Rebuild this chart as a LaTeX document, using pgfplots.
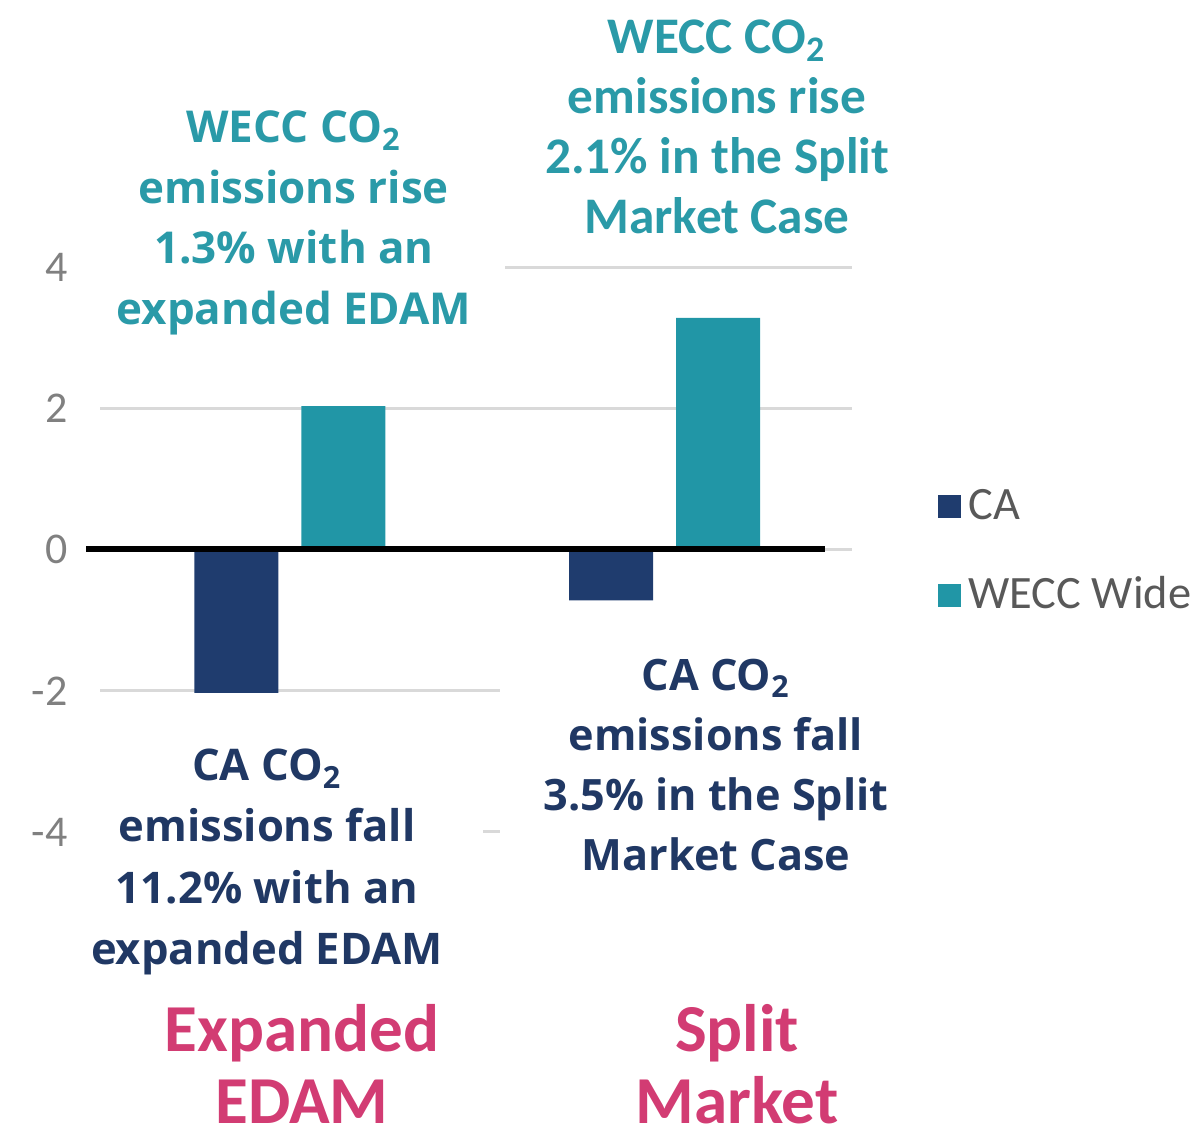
\documentclass[border=0pt]{standalone}
\usepackage{pgfplots}
\pgfplotsset{compat=1.18}
\usepackage{fontspec}
\setmainfont{Carlito}
\newfontfamily\osans{Open Sans}
\definecolor{ca}{HTML}{1F3C6E}
\definecolor{wecc}{HTML}{2196A6}
\definecolor{tealtext}{HTML}{2A9AA8}
\definecolor{navytext}{HTML}{203864}
\definecolor{pinktext}{HTML}{D23C73}
\definecolor{tickgray}{HTML}{808080}
\definecolor{leggray}{HTML}{595959}
\definecolor{gridgray}{HTML}{D9D9D9}
\begin{document}
\begin{tikzpicture}
\begin{axis}[
  at={(1.00cm,3.11cm)}, anchor=south west,
  scale only axis, width=7.52cm, height=5.65cm,
  xmin=-0.507, xmax=1.5, ymin=-4, ymax=4,
  ytick={-4,-2,0,2,4}, yticklabels={-4,-2,0,2,4},
  xtick=\empty,
  axis line style={draw=none},
  major tick length=0pt,
  ymajorgrids, grid style={color=gridgray, line width=0.03cm},
  ybar=0.23cm, bar width=0.84cm,
  yticklabel style={font=\fontsize{12.5pt}{14pt}\selectfont, text=tickgray, xshift=-0.2cm},
  clip=false,
  legend style={at={(1.100,0.496)}, anchor=west, draw=none, fill=none,
    font=\fontsize{13.2pt}{15pt}\selectfont, text=leggray, row sep=0.38cm,
    cells={anchor=west}},
  legend image code/.code={\fill[#1] (0cm,-0.115cm) rectangle (0.23cm,0.115cm);},
]
\addplot[fill=ca, draw=none] coordinates {(0,-2.03) (1,-0.72)};
\addplot[fill=wecc, draw=none] coordinates {(0,2.03) (1,3.28)};
\legend{CA, WECC Wide}
\draw[line width=0.06cm] (axis cs:-0.544,0) -- (axis cs:1.427,0);
\end{axis}
% white boxes hiding grid lines
\fill[white] (0.95,7.98) rectangle (5.05,10.48);
\fill[white] (0.85,1.63) rectangle (4.83,4.38);
\fill[white] (5.00,2.63) rectangle (9.00,5.03);
% annotations
\node[font=\osans\bfseries\fontsize{12.5pt}{17.2pt}\selectfont, text=tealtext, align=center] at (2.94,9.20)
  {WECC CO\textsubscript{2}\\emissions rise\\1.3\% with an\\expanded EDAM};
\node[font=\bfseries\fontsize{14.6pt}{17.1pt}\selectfont, text=tealtext, align=center] at (7.17,10.16)
  {WECC CO\textsubscript{2}\\emissions rise\\2.1\% in the Split\\Market Case};
\node[font=\osans\bfseries\fontsize{12.4pt}{17.4pt}\selectfont, text=navytext, align=center] at (2.67,2.81)
  {CA CO\textsubscript{2}\\emissions fall\\11.2\% with an\\expanded EDAM};
\node[font=\osans\bfseries\fontsize{12.3pt}{17.1pt}\selectfont, text=navytext, align=center] at (7.16,3.78)
  {CA CO\textsubscript{2}\\emissions fall\\3.5\% in the Split\\Market Case};
\node[font=\bfseries\fontsize{19.1pt}{22pt}\selectfont, text=pinktext, anchor=base, inner sep=0pt] at (3.02,0.92) {Expanded};
\node[font=\bfseries\fontsize{19.1pt}{22pt}\selectfont, text=pinktext, anchor=base, inner sep=0pt] at (3.02,0.20) {EDAM};
\node[font=\bfseries\fontsize{19.1pt}{22pt}\selectfont, text=pinktext, anchor=base, inner sep=0pt] at (7.37,0.92) {Split};
\node[font=\bfseries\fontsize{19.1pt}{22pt}\selectfont, text=pinktext, anchor=base, inner sep=0pt] at (7.37,0.20) {Market};
\pgfresetboundingbox
\path[use as bounding box] (0,0) rectangle (11.98,11.43);
\end{tikzpicture}
\end{document}
